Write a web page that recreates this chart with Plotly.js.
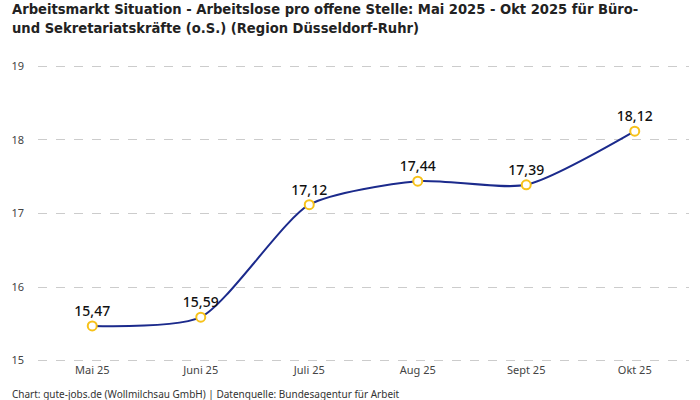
<!DOCTYPE html>
<html>
<head>
<meta charset="utf-8">
<script src="https://cdn.plot.ly/plotly-3.0.1.min.js"></script>
<style>
  html, body { margin: 0; padding: 0; background: #fff; }
  #chart { width: 700px; height: 400px; }
</style>
</head>
<body>
<div id="chart"></div>
<script>
// Monate und Werte (Arbeitslose pro offene Stelle)
var months = ["Mai 25", "Juni 25", "Juli 25", "Aug 25", "Sept 25", "Okt 25"];
var ratio = [15.47, 15.59, 17.12, 17.44, 17.39, 18.12];
var yTicks = [15, 16, 17, 18, 19];

var titleLine1 = "Arbeitsmarkt Situation - Arbeitslose pro offene Stelle: Mai 2025 - Okt 2025 für Büro-";
var titleLine2 = "und Sekretariatskräfte (o.S.) (Region Düsseldorf-Ruhr)";
var footnote = "Chart: gute-jobs.de (Wollmilchsau GmbH) | Datenquelle: Bundesagentur für Arbeit";

var titleFont = { family: "DejaVu Sans Condensed, Liberation Sans Narrow, sans-serif", size: 14.6, color: "#222222", weight: 700 };

var trace = {
  x: months,
  y: ratio,
  type: "scatter",
  mode: "lines+markers+text",
  line: { color: "#1b2a8c", width: 2, shape: "spline", smoothing: 0.65 },
  marker: {
    size: 9,
    color: "#ffffff",
    line: { color: "#f7c21a", width: 2 }
  },
  texttemplate: "%{y:.2f}",
  textposition: "top center",
  textfont: { family: "Noto Sans, sans-serif", size: 14, color: "#111111", weight: 500 },
  hoverinfo: "skip",
  cliponaxis: false
};

var layout = {
  width: 700,
  height: 400,
  margin: { l: 38, r: 11, t: 65, b: 38 },
  paper_bgcolor: "#ffffff",
  plot_bgcolor: "#ffffff",
  separators: ",.",
  showlegend: false,
  xaxis: {
    type: "category",
    range: [-0.5, 5.5],
    showgrid: false,
    zeroline: false,
    showline: false,
    ticks: "",
    tickfont: { family: "Noto Sans, sans-serif", size: 11, color: "#444444" }
  },
  yaxis: {
    range: [14.98, 19.02],
    tickvals: yTicks,
    ticktext: yTicks.map(String),
    showgrid: true,
    gridcolor: "#cccccc",
    griddash: "dash",
    gridwidth: 1,
    zeroline: false,
    showline: false,
    ticks: "",
    ticklabelstandoff: 13,
    tickfont: { family: "Noto Sans, sans-serif", size: 11, color: "#444444" }
  },
  annotations: [
    {
      text: titleLine1,
      xref: "paper", yref: "paper",
      x: -0.043, y: 1.19,
      xanchor: "left", yanchor: "middle",
      showarrow: false,
      font: titleFont
    },
    {
      text: titleLine2,
      xref: "paper", yref: "paper",
      x: -0.043, y: 1.125,
      xanchor: "left", yanchor: "middle",
      showarrow: false,
      font: titleFont
    },
    {
      text: footnote,
      xref: "paper", yref: "paper",
      x: -0.043, y: -0.108,
      xanchor: "left", yanchor: "middle",
      showarrow: false,
      font: { family: "Noto Sans, sans-serif", size: 10, color: "#333333" }
    }
  ]
};

var config = { displayModeBar: false, responsive: false };

Plotly.newPlot("chart", [trace], layout, config);
</script>
</body>
</html>
